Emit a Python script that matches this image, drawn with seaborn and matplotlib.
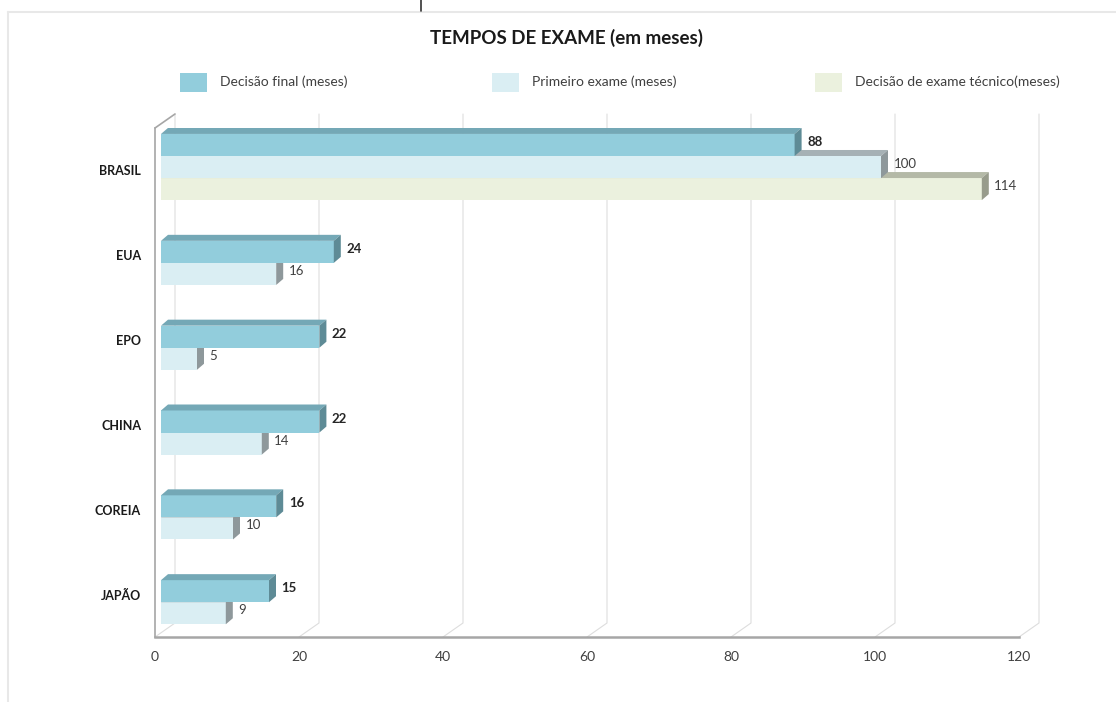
import matplotlib
matplotlib.use('Agg')
import matplotlib.pyplot as plt
from matplotlib.patches import Polygon, Rectangle
from matplotlib.lines import Line2D
import seaborn as sns
import pandas as pd
import numpy as np

# dados (meses)
paises = ['BRASIL', 'EUA', 'EPO', 'CHINA', 'COREIA', 'JAPÃO']
decisao_final = [88, 24, 22, 22, 16, 15]
primeiro_exame = [100, 16, 5, 14, 10, 9]
exame_tecnico = [114, None, None, None, None, None]

series = ['Decisão final (meses)', 'Primeiro exame (meses)', 'Decisão de exame técnico(meses)']
valores = [decisao_final, primeiro_exame, exame_tecnico]
x_ticks = [0, 20, 40, 60, 80, 100, 120]

cores = ['#92CDDC', '#DAEEF3', '#EBF1DE']
cores_topo = ['#74A8B6', '#A6B1B5', '#B4B9A7']
cores_lado = ['#5E8B96', '#8E989B', '#989C8C']

sns.set_style('white')
plt.rcParams['font.family'] = ['Lato', 'DejaVu Sans']

W, H = 1116, 702
fig = plt.figure(figsize=(W / 100, H / 100), dpi=100)
ax = fig.add_axes([155 / W, 1 - 637 / H, 864 / W, 509 / H])
px_x = 864 / 120
px_y = 509 / 6

# long table; bars of each country fill the last slots of the group
slot = 0.26
linhas = []
for i, pais in enumerate(paises):
    presentes = [j for j in range(3) if valores[j][i] is not None]
    inicio = 3 - len(presentes)
    for k, j in enumerate(presentes):
        linhas.append({'pais': pais, 'serie': series[j], 'valor': valores[j][i],
                       'pos': i + (inicio + k - 1) * slot - 0.04})
df = pd.DataFrame(linhas)

esq = 6 / px_x            # front face sits a bit off the front axis
dx, dy = 7 / px_x, 6 / px_y

for j in [2, 1, 0]:
    sub = df[df['serie'] == series[j]]
    n0 = len(ax.patches)
    z = 5 - j
    sns.barplot(data=sub, x='valor', y='pos', orient='y', native_scale=True,
                width=slot, color=cores[j], saturation=1, errorbar=None,
                left=esq, linewidth=0, zorder=z, ax=ax)
    for p in ax.patches[n0:]:
        x0, w = p.get_x(), p.get_width()
        y, h = p.get_y(), p.get_height()
        x1 = x0 + w
        topo = Polygon([(x0, y), (x1, y), (x1 + dx, y - dy), (x0 + dx, y - dy)],
                       closed=True, facecolor=cores_topo[j], edgecolor='none', zorder=z)
        lado = Polygon([(x1, y), (x1, y + h), (x1 + dx, y + h - dy), (x1 + dx, y - dy)],
                       closed=True, facecolor=cores_lado[j], edgecolor='none', zorder=z)
        ax.add_patch(topo)
        ax.add_patch(lado)
        ax.annotate(f'{int(round(w))}', (x1 + dx, y + h / 2 - dy / 2), xytext=(4, 0),
                    textcoords='offset points', va='center', ha='left', fontsize=9.5,
                    fontweight='bold' if j == 0 else 'normal',
                    color='#262626' if j == 0 else '#404040', zorder=6)

# back wall grid and floor lines
bdx, bdy = 20 / px_x, 14 / px_y
y_top, y_bot = -0.5, 5.5
for t in x_ticks:
    ax.plot([t + bdx, t + bdx, t], [y_top - bdy, y_bot - bdy, y_bot],
            color='#DDDDDD', lw=0.8, clip_on=False, zorder=1)
ax.plot([0, bdx], [y_top, y_top - bdy], color='#A6A6A6', lw=1.2, clip_on=False, zorder=1)

ax.set_xlim(0, 120)
ax.set_ylim(y_bot, y_top)
ax.set_xlabel('')
ax.set_ylabel('')
ax.set_xticks(x_ticks)
ax.set_yticks(range(len(paises)), paises)
ax.set_yticks(np.arange(-0.5, 5), minor=True)
ax.tick_params(axis='y', which='major', length=0, pad=10, labelsize=9, labelcolor='#1a1a1a')
ax.tick_params(axis='y', which='minor', length=3.5, color='#A6A6A6', width=1, direction='out')
ax.tick_params(axis='x', length=3, color='#A6A6A6', width=1, pad=7, labelsize=10,
               labelcolor='#404040', direction='out')
for lbl in ax.get_yticklabels():
    lbl.set_fontweight('bold')
for s in ['top', 'right']:
    ax.spines[s].set_visible(False)
ax.spines['left'].set_color('#A6A6A6')
ax.spines['left'].set_linewidth(1.2)
ax.spines['bottom'].set_color('#A6A6A6')
ax.spines['bottom'].set_linewidth(1.8)
ax.set_facecolor('none')

# title and legend
fig.text(567 / W, 1 - 38 / H, 'TEMPOS DE EXAME (em meses)', ha='center', va='center',
         fontsize=13.5, fontweight='bold', color='#1a1a1a')
leg_x = [180, 492, 815]
for j in range(3):
    fig.patches.append(Rectangle((leg_x[j] / W, 1 - 92 / H), 27 / W, 19 / H,
                                 transform=fig.transFigure, facecolor=cores[j], edgecolor='none'))
    fig.text((leg_x[j] + 40) / W, 1 - 82 / H, series[j], va='center', ha='left',
             fontsize=10, color='#404040')

# outer frame
fig.add_artist(Line2D([8 / W, 1], [1 - 12 / H] * 2, transform=fig.transFigure, color='#E8E8E8', lw=1.5))
fig.add_artist(Line2D([8 / W] * 2, [0, 1 - 12 / H], transform=fig.transFigure, color='#E8E8E8', lw=1.5))
fig.add_artist(Line2D([421 / W] * 2, [1, 1 - 11 / H], transform=fig.transFigure, color='#333333', lw=1.2))

fig.savefig('out.png', dpi=100)
